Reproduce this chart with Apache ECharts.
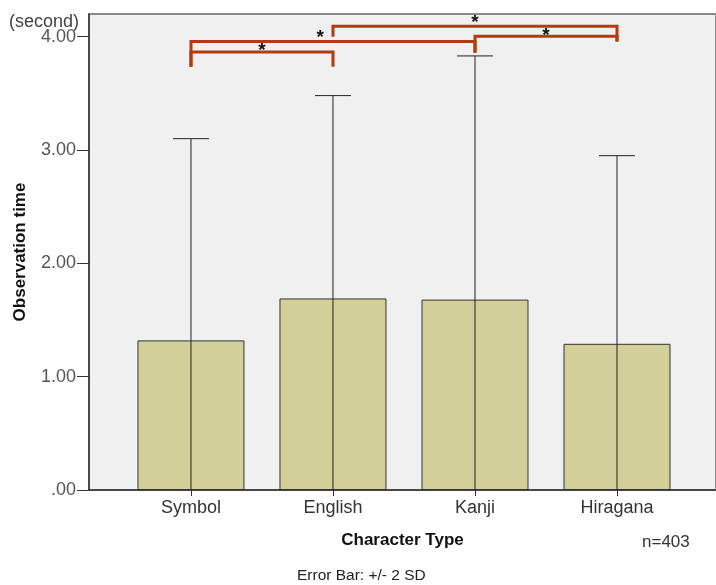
<!DOCTYPE html>
<html>
<head>
<meta charset="utf-8">
<script src="https://cdn.jsdelivr.net/npm/echarts@6/dist/echarts.min.js"></script>
<style>
html,body{margin:0;padding:0;background:#fff;}
#chart{width:716px;height:585px;}
</style>
</head>
<body>
<div id="chart"></div>
<script>
// ---- data ----
const categories = ['Symbol', 'English', 'Kanji', 'Hiragana'];
const means = [1.32, 1.69, 1.68, 1.29];
const upperBars = [3.10, 3.48, 3.83, 2.95];       // mean + 2 SD
const yTickValues = [0, 1, 2, 3, 4];
const yTickLabels = ['.00', '1.00', '2.00', '3.00', '4.00'];
// significance brackets: [from category index, to category index]
const bracketPairs = [[0, 1], [0, 2], [1, 3], [2, 3]];
const bracketLevels = [3.865, 3.958, 4.091, 4.003];
const bracketLegEnds = [[3.735, 3.735], [3.735, 3.859], [4.0, 3.958], [3.859, 3.958]];
const bracketStarX = [1.5, 1.91, 3.0, 3.5];
const bracketStarY = [3.921, 4.035, 4.165, 4.053];
const bracketLabels = ['*', '*', '*', '*'];

const chart = echarts.init(document.getElementById('chart'), null, {renderer: 'canvas'});
const xPos = categories.map((c, i) => i + 1);
const FONT = 'Liberation Sans, Arial, sans-serif';

const option = {
  animation: false,
  backgroundColor: '#ffffff',
  grid: {
    left: 89, right: 0, top: 14, bottom: 95,
    show: true, backgroundColor: '#f0f0f0', borderColor: '#8a8a8a', borderWidth: 2
  },
  xAxis: {
    type: 'value', min: 0.282, max: 4.697,
    name: 'Character Type', nameLocation: 'middle', nameGap: 42,
    nameTextStyle: {fontFamily: FONT, fontSize: 17, fontWeight: 'bold', color: '#111'},
    axisLine: {show: true, lineStyle: {color: '#333', width: 1.5}},
    axisTick: {show: true, customValues: xPos, length: 6, lineStyle: {color: '#333'}},
    axisLabel: {
      customValues: xPos, margin: 9, fontFamily: FONT, fontSize: 18, color: '#333',
      formatter: v => categories[Math.round(v) - 1]
    },
    splitLine: {show: false}
  },
  yAxis: {
    type: 'value', min: 0, max: 4.2,
    name: 'Observation time', nameLocation: 'middle', nameGap: 60, nameRotate: 90,
    nameTextStyle: {fontFamily: FONT, fontSize: 17, fontWeight: 'bold', color: '#111'},
    axisLine: {show: true, lineStyle: {color: '#333', width: 1.5}},
    axisTick: {show: true, customValues: yTickValues, length: 12, lineStyle: {color: '#333'}},
    axisLabel: {
      customValues: yTickValues, margin: 13, fontFamily: FONT, fontSize: 18, color: '#555',
      formatter: v => yTickLabels[yTickValues.indexOf(v)]
    },
    splitLine: {show: false}
  },
  series: [
    {
      type: 'bar',
      barWidth: 107,
      data: means.map((m, i) => [xPos[i], m]),
      itemStyle: {color: '#d3cf98', borderColor: '#333', borderWidth: 1},
      z: 2
    },
    {
      type: 'custom',
      z: 3,
      data: upperBars.map((u, i) => [xPos[i], means[i], u]),
      renderItem: function (params, api) {
        const x = api.value(0), m = api.value(1), u = api.value(2);
        const lo = Math.max(0, 2 * m - u);
        const pTop = api.coord([x, u]);
        const pBot = api.coord([x, lo]);
        const st = {stroke: '#222', lineWidth: 1};
        return {
          type: 'group',
          children: [
            {type: 'line', shape: {x1: pTop[0], y1: pTop[1], x2: pBot[0], y2: pBot[1]}, style: st},
            {type: 'line', shape: {x1: pTop[0] - 18, y1: pTop[1], x2: pTop[0] + 18, y2: pTop[1]}, style: st}
          ]
        };
      }
    },
    {
      type: 'custom',
      z: 4,
      clip: false,
      data: bracketPairs.map((p, i) => [xPos[p[0]], xPos[p[1]], bracketLevels[i], bracketLegEnds[i][0], bracketLegEnds[i][1], bracketStarX[i], bracketStarY[i]]),
      renderItem: function (params, api) {
        const x1 = api.value(0), x2 = api.value(1), lv = api.value(2);
        const e1 = api.value(3), e2 = api.value(4), sx = api.value(5), sy = api.value(6);
        const a = api.coord([x1, e1]);
        const b = api.coord([x1, lv]);
        const c = api.coord([x2, lv]);
        const d = api.coord([x2, e2]);
        const s = api.coord([sx, sy]);
        return {
          type: 'group',
          children: [
            {type: 'polyline', shape: {points: [a, b, c, d]},
             style: {stroke: '#b43a10', lineWidth: 3, fill: null, lineJoin: 'miter'}},
            {type: 'text', x: s[0], y: s[1] + 5,
             style: {text: bracketLabels[params.dataIndex], fill: '#111', font: 'bold 19px ' + FONT,
                     align: 'center', verticalAlign: 'middle'}}
          ]
        };
      }
    }
  ],
  graphic: [
    {type: 'text', left: 9, top: 13, style: {text: '(second)', font: '18px ' + FONT, fill: '#444'}},
    {type: 'text', left: 642, top: 534, style: {text: 'n=403', font: '17px ' + FONT, fill: '#333'}},
    {type: 'text', left: 297, top: 568, style: {text: 'Error Bar: +/- 2 SD', font: '15.5px ' + FONT, fill: '#222'}}
  ]
};
chart.setOption(option);
</script>
</body>
</html>
